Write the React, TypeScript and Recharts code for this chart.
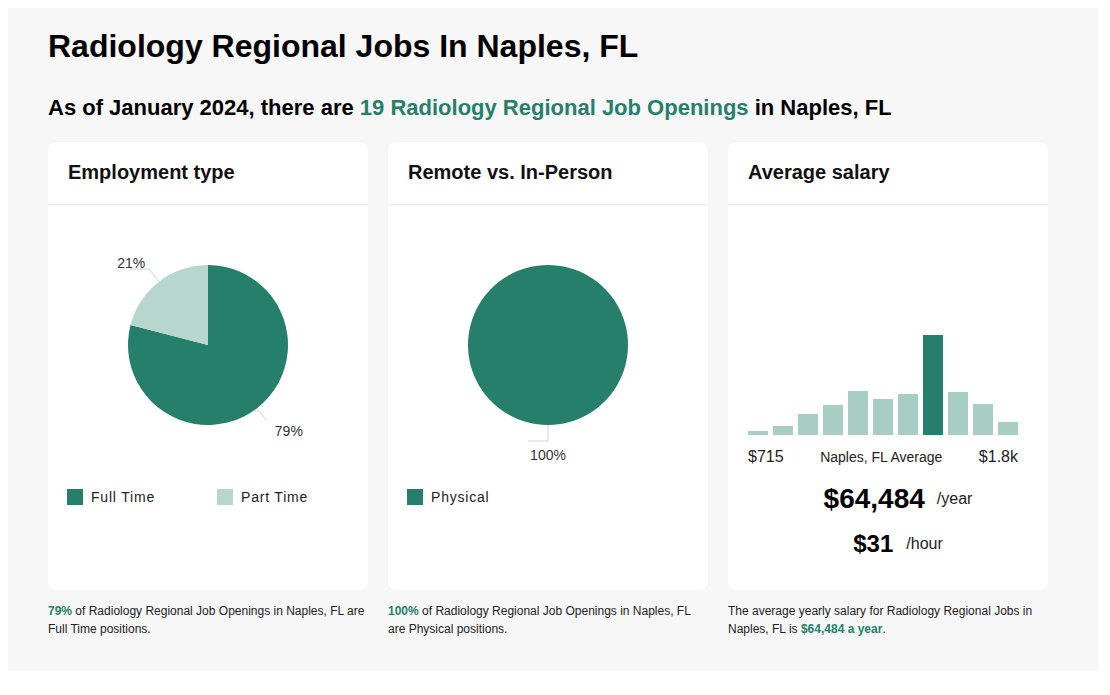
import React from 'react';
import { PieChart, Pie, Cell, Legend, BarChart, Bar, XAxis, YAxis } from 'recharts';

// Données
const employmentTypes = ['Full Time', 'Part Time'];
const employmentShares = [79, 21];
const workplaceTypes = ['Physical'];
const workplaceShares = [100];
const salaryBins = [4, 9, 21, 30, 44, 36, 41, 100, 43, 31, 13];
const averageBinIndex = 7;
const salaryRangeLabels = ['$715', 'Naples, FL Average', '$1.8k'];
const yearlySalary = '$64,484';
const hourlySalary = '$31';
const jobCount = 19;

const GREEN = '#267f6a';
const PIE_LIGHT = '#b7d7ce';
const BAR_LIGHT = '#a8cdc2';
const FONT = '"Liberation Sans", Arial, Helvetica, sans-serif';

const employmentData = employmentTypes.map((name, i) => ({ name, value: employmentShares[i] }));
const workplaceData = workplaceTypes.map((name, i) => ({ name, value: workplaceShares[i] }));
const salaryData = salaryBins.map((count, i) => ({ bin: i, count }));

const RAD = Math.PI / 180;

// Étiquette avec trait de rappel
const renderPieLabel = (props: any) => {
  const { cx, cy, midAngle, outerRadius, value } = props;
  const cos = Math.cos(-midAngle * RAD);
  const sin = Math.sin(-midAngle * RAD);
  const x0 = cx + outerRadius * cos;
  const y0 = cy + outerRadius * sin;
  const x1 = cx + (outerRadius + 16) * cos;
  const y1 = cy + (outerRadius + 16) * sin;
  let points = `${x0},${y0} ${x1},${y1}`;
  let tx = x1;
  let ty = y1;
  if (cos > 0.01) {
    tx = x1 + 22;
    ty = y1 + 10;
  } else if (cos < -0.01) {
    points += ` ${x1 - 20},${y1}`;
    tx = x1 - 18;
    ty = y1 - 6;
  } else {
    points += ` ${x1 - 20},${y1}`;
    tx = x1;
    ty = y1 + 14;
  }
  return (
    <g>
      <polyline points={points} fill="none" stroke="#d4d4d4" strokeWidth={1} />
      <text x={tx} y={ty} textAnchor="middle" dominantBaseline="central" fontSize={14} fill="#333" fontFamily={FONT}>
        {value}%
      </text>
    </g>
  );
};

const makeLegend = (colors: string[]) => (props: any) => {
  const { payload = [] } = props;
  return (
    <div style={{ display: 'flex', fontFamily: FONT }}>
      {payload.map((entry: any, i: number) => (
        <div key={entry.value} style={{ display: 'flex', alignItems: 'center', width: 151 }}>
          <span style={{ width: 16, height: 16, background: colors[i], display: 'inline-block' }} />
          <span style={{ marginLeft: 8, fontSize: 14, letterSpacing: 0.8, color: '#222' }}>{entry.value}</span>
        </div>
      ))}
    </div>
  );
};

const Card: React.FC<{ left: number; title: string; children?: React.ReactNode }> = ({ left, title, children }) => (
  <div
    style={{
      position: 'absolute',
      left,
      top: 134,
      width: 320,
      height: 448,
      background: '#fff',
      borderRadius: 8,
      boxShadow: '0 0 2px rgba(0,0,0,0.04)',
    }}
  >
    <div style={{ position: 'absolute', left: 20, top: 18, lineHeight: '24px', fontSize: 20, fontWeight: 700, color: '#111' }}>
      {title}
    </div>
    <div style={{ position: 'absolute', left: 0, right: 0, top: 62, height: 1, background: '#e6e6e6' }} />
    {children}
  </div>
);

const PieBlock: React.FC<{ data: { name: string; value: number }[]; colors: string[] }> = ({ data, colors }) => (
  <div style={{ position: 'absolute', left: 0, top: 63 }}>
    <PieChart width={320} height={320} margin={{ top: 0, right: 0, bottom: 0, left: 0 }}>
      <Pie
        data={data}
        dataKey="value"
        nameKey="name"
        cx={160}
        cy={140}
        outerRadius={80}
        startAngle={90}
        endAngle={-270}
        stroke="none"
        label={renderPieLabel}
        labelLine={false}
        isAnimationActive={false}
      >
        {data.map((d, i) => (
          <Cell key={d.name} fill={colors[i]} />
        ))}
      </Pie>
      <Legend content={makeLegend(colors)} wrapperStyle={{ top: 284, left: 19, width: 300 }} />
    </PieChart>
  </div>
);

const footStyle: React.CSSProperties = {
  position: 'absolute',
  top: 594,
  width: 320,
  fontSize: 12,
  lineHeight: '18px',
  color: '#222',
};
const green: React.CSSProperties = { color: GREEN, fontWeight: 700 };

export default function App() {
  return (
    <div
      style={{
        position: 'relative',
        width: 1090,
        height: 663,
        background: '#f7f7f7',
        fontFamily: FONT,
        color: '#111',
      }}
    >
      <div style={{ position: 'absolute', left: 40, top: 18, lineHeight: '40px', fontSize: 32, fontWeight: 700, color: '#000' }}>
        Radiology Regional Jobs In Naples, FL
      </div>
      <div style={{ position: 'absolute', left: 40, top: 85, lineHeight: '30px', fontSize: 22, fontWeight: 700, color: '#000' }}>
        As of January 2024, there are <span style={{ color: GREEN }}>{jobCount} Radiology Regional Job Openings</span> in
        Naples, FL
      </div>

      <Card left={40} title="Employment type">
        <PieBlock data={employmentData} colors={[GREEN, PIE_LIGHT]} />
      </Card>

      <Card left={380} title="Remote vs. In-Person">
        <PieBlock data={workplaceData} colors={[GREEN]} />
      </Card>

      <Card left={720} title="Average salary">
        <div style={{ position: 'absolute', left: 0, top: 183 }}>
          <BarChart width={320} height={110} data={salaryData} margin={{ top: 10, right: 27.5, left: 17.5, bottom: 0 }} barCategoryGap="10%">
            <XAxis dataKey="bin" hide />
            <YAxis hide domain={[0, 100]} />
            <Bar dataKey="count" isAnimationActive={false}>
              {salaryData.map((d, i) => (
                <Cell key={d.bin} fill={i === averageBinIndex ? GREEN : BAR_LIGHT} />
              ))}
            </Bar>
          </BarChart>
        </div>
        <div
          style={{
            position: 'absolute',
            left: 20,
            width: 270,
            top: 305,
            lineHeight: '20px',
            display: 'flex',
            justifyContent: 'space-between',
            alignItems: 'center',
            color: '#222',
          }}
        >
          <span style={{ fontSize: 16 }}>{salaryRangeLabels[0]}</span>
          <span style={{ fontSize: 14 }}>{salaryRangeLabels[1]}</span>
          <span style={{ fontSize: 16 }}>{salaryRangeLabels[2]}</span>
        </div>
        <div style={{ position: 'absolute', left: 20, right: 0, top: 339, lineHeight: '36px', display: 'flex', justifyContent: 'center', alignItems: 'center' }}>
          <span style={{ fontSize: 28, fontWeight: 700, color: '#000' }}>{yearlySalary}</span>
          <span style={{ fontSize: 16, marginLeft: 12, color: '#222' }}>/year</span>
        </div>
        <div style={{ position: 'absolute', left: 20, right: 0, top: 386, lineHeight: '32px', display: 'flex', justifyContent: 'center', alignItems: 'center' }}>
          <span style={{ fontSize: 24, fontWeight: 700, color: '#000' }}>{hourlySalary}</span>
          <span style={{ fontSize: 16, marginLeft: 13, color: '#222' }}>/hour</span>
        </div>
      </Card>

      <div style={{ ...footStyle, left: 40 }}>
        <span style={green}>{employmentShares[0]}%</span> of Radiology Regional Job Openings in Naples, FL are Full Time
        positions.
      </div>
      <div style={{ ...footStyle, left: 380 }}>
        <span style={green}>{workplaceShares[0]}%</span> of Radiology Regional Job Openings in Naples, FL are Physical
        positions.
      </div>
      <div style={{ ...footStyle, left: 720 }}>
        The average yearly salary for Radiology Regional Jobs in Naples, FL is{' '}
        <span style={green}>{yearlySalary} a year</span>.
      </div>
    </div>
  );
}
